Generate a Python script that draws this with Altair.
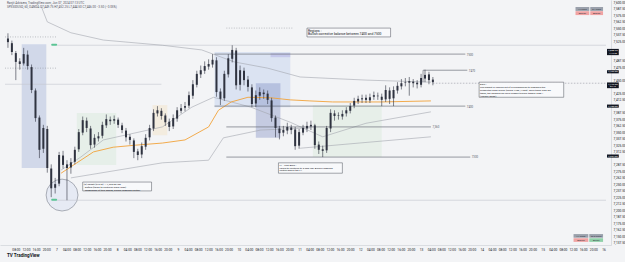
import json
import altair as alt
import pandas as pd

FONT = "Roboto"

# ---------------- candle data (index, OHLC) ----------------
opens = [7530,7521,7502,7486,7482,7499,7475,7430,7378,7318,
         7356,7280,7243,7251,7305,7288,7282,7293,7317,7349,
         7372,7357,7326,7338,7343,7363,7374,7372,7374,7363,
         7353,7341,7334,7313,7307,7322,7340,7357,7386,7391,
         7382,7370,7361,7376,7391,7397,7401,7420,7441,7461,
         7468,7476,7480,7488,7428,7415,7461,7491,7507,7441,
         7468,7451,7436,7405,7420,7426,7424,7411,7378,7357,
         7349,7353,7359,7355,7324,7349,7357,7361,7363,7326,
         7317,7315,7357,7386,7382,7380,7386,7391,7401,7409,
         7413,7416,7411,7418,7420,7418,7413,7430,7415,7430,
         7438,7445,7445,7447,7445,7441,7453,7461,7451]
closes = [7523,7504,7485,7481,7500,7477,7431,7377,7316,7358,
          7281,7242,7250,7306,7287,7281,7292,7316,7350,7373,
          7358,7325,7339,7342,7364,7375,7371,7375,7364,7354,
          7340,7335,7312,7306,7323,7339,7358,7387,7392,7381,
          7369,7360,7377,7392,7396,7400,7421,7442,7462,7469,
          7477,7481,7489,7427,7414,7462,7492,7508,7440,7469,
          7450,7437,7404,7421,7427,7423,7412,7377,7358,7348,
          7354,7360,7354,7323,7350,7358,7362,7364,7325,7316,
          7314,7358,7387,7381,7381,7385,7392,7400,7410,7414,
          7415,7412,7417,7421,7419,7412,7431,7414,7431,7439,
          7444,7446,7448,7444,7442,7454,7460,7450,7446]
highs = [7540,7526,7506,7492,7512,7507,7480,7434,7382,7364,
         7362,7288,7262,7312,7314,7296,7300,7322,7356,7380,
         7378,7362,7346,7350,7370,7384,7380,7382,7378,7368,
         7358,7346,7338,7318,7330,7346,7364,7394,7400,7396,
         7386,7376,7384,7398,7404,7408,7428,7450,7468,7478,
         7486,7490,7500,7494,7434,7468,7500,7517,7512,7478,
         7474,7458,7442,7430,7436,7432,7430,7416,7382,7362,
         7362,7368,7364,7360,7356,7364,7370,7372,7366,7332,
         7324,7362,7394,7392,7388,7392,7398,7406,7416,7420,
         7422,7422,7424,7428,7426,7424,7440,7436,7438,7446,
         7452,7454,7456,7452,7450,7462,7470,7466,7456]
lows = [7512,7498,7450,7470,7478,7470,7425,7370,7300,7310,
        7272,7225,7232,7246,7280,7219,7270,7288,7312,7344,
        7350,7318,7320,7332,7338,7358,7364,7366,7358,7348,
        7332,7326,7300,7296,7300,7316,7334,7352,7380,7374,
        7362,7352,7356,7370,7386,7390,7396,7414,7436,7454,
        7462,7470,7474,7418,7402,7410,7455,7484,7432,7430,
        7440,7428,7398,7398,7412,7414,7404,7370,7340,7336,
        7342,7346,7346,7316,7318,7344,7350,7354,7318,7308,
        7302,7310,7350,7372,7374,7374,7380,7386,7396,7404,
        7406,7406,7406,7412,7412,7400,7408,7404,7400,7424,
        7432,7438,7420,7436,7434,7436,7446,7442,7440]
bar_index = list(range(len(closes)))

# ---------------- zones (boxes) ----------------
zone_x1 = [3.5, 17.5, 36.75, 52.5, 63.0, 77.5, 66.75]
zone_x2 = [9.75, 27.5, 40.5, 71.75, 69.25, 95.0, 71.75]
zone_top = [7519, 7387, 7402, 7504, 7444, 7402, 7502]
zone_bot = [7281, 7287, 7344, 7398, 7339, 7302, 7494]
zone_fill = ["#7b8ec8", "#8fcf8f", "#f3c77c", "#9db6e8", "#7f8fc4", "#a6d8a6", "#b3b3e6"]
zone_alpha = [0.28, 0.13, 0.18, 0.28, 0.40, 0.16, 0.55]

# ---------------- moving averages / bands ----------------
orange_i = [13.5, 21.75, 26.75, 32.5, 39.25, 45, 51, 53.5, 56.75, 61, 66.75, 71.75, 76.75, 82.5, 95, 107.5]
orange_p = [7271, 7312, 7321, 7325, 7329, 7335, 7360, 7392, 7408, 7417, 7416, 7412, 7410, 7408, 7408, 7410]
band1_i = [8.5, 10, 16, 24.25, 39.25, 49.25, 57.5, 66, 74.25, 91, 107.5]
band1_p = [7591, 7562, 7541, 7527, 7517, 7508, 7485, 7473, 7456, 7450, 7446]
band2_i = [13.5, 18.5, 24.25, 39.25, 46.75, 52.25, 61.75, 71.75, 80, 91, 107.5]
band2_p = [7277, 7302, 7335, 7360, 7398, 7417, 7398, 7369, 7341, 7367, 7389]
band3_i = [16, 39.25, 51, 54.75, 64.25, 76.75]
band3_p = [7262, 7291, 7296, 7339, 7354, 7358]
band4_i = [74.25, 89.25, 107.5]
band4_p = [7319, 7329, 7341]

# ---------------- horizontal levels ----------------
level_p = [7500, 7469, 7400, 7360, 7302]
level_x1 = [52.5, 105.5, 52.5, 55.5, 55.5]
level_x2 = [116.25, 116.75, 116.25, 107.5, 117.5]
level_lbl = ["7500", "7470", "7400", "7,360", "7300"]
faint_p = [7517, 7219, 7442]
faint_x1 = [12.5, 12.5, -0.75]
faint_x2 = [152.0, 152.0, 39.0]
dotted_p = [7533, 7473, 7550]
dotted_x1 = [-0.75, -0.75, 55.5]
dotted_x2 = [12.5, 12.25, 72.5]
dashed_p = [7444]
dashed_x1 = [108.0]
dashed_x2 = [152.0]

# ---------------- note boxes ----------------
note_x1 = [76.0, 19.0, 68.75, 119.75]
note_x2 = [97.25, 36.5, 85.0, 141.25]
note_top = [7550, 7254, 7291, 7446]
note_bot = [7533, 7237, 7271, 7417]
note_size = [3.3, 2.5, 2.5, 2.45]
note_text = [
    "Regions :\nBullish corrective balance between 7400 and 7500",
    "(S) swept ($7240) \u2014 7,225.00 low\n- Defied (failed to continue lower lows)\n- Regardless of this sweep, buyers regained control",
    "L1 - Low Zone :\nFailed to continue to a new low. Buyers regained\ncontrol above the L1",
    "Daily :\nThe market is coming out of a compression to rebalance the\nsuspected lower prices (below 7400 / 7350). Once these lows are\ntaken, the rebalancing could support buyers toward 7550 +\n(Weekly range).",
]

# ---------------- price tags on the axis ----------------
tag_top = [7510, 7469, 7445.5, 7403, 7307]
tag_bot = [7498, 7463, 7434.5, 7397, 7301]
tag_text = ["7,508.25\n1:13:20", "7,466.00", "7,446.00\n04:13", "7,400.00", "7,304.00"]
green_tag_p = [7518, 7220]

# ---------------- small header / buttons ----------------
header_text = ["Ranjit Advisers, TradingView.com, Jun 07, 2024 07:13 UTC",
               "SPX500USD, 60, OANDA  O7,449.75 H7,452.25 L7,444.50 C7,446.00 \u22123.50 (\u22120.05%)"]
header_p = [7598, 7590.5]
btn_x1 = [144.25, 148.0, 144.25, 148.0, 143.75, 147.75, 143.75, 147.75]
btn_x2 = [147.75, 151.25, 147.75, 151.25, 147.5, 151.25, 147.5, 151.25]
btn_top = [7590.5, 7590.5, 7582.5, 7582.5, 7154, 7154, 7146, 7146]
btn_bot = [7583, 7583, 7575, 7575, 7147, 7147, 7139, 7139]
btn_fill = ["#9aa0ab", "#9aa0ab", "#f0a3a3", "#f0a3a3", "#9aa0ab", "#9aa0ab", "#f0a3a3", "#8fd0a8"]
btn_text = ["H4 Trend", "D1 Trend", "Bearish", "Bearish", "H1 Trend", "M15 Trend", "Bearish", "Bullish"]

# ---------------- axis ticks ----------------
y_ticks = [7137.5 + 12.5 * k for k in range(38)]
x_ticks = [round(2 + 2.575 * k, 3) for k in range(59)]
day_names = ["7", "8", "9", "10", "11", "12", "13", "14", "15", "16"]
hour_names = ["04:00", "08:00", "12:00", "16:00", "20:00"]
x_labels = ["08:00", "12:00", "16:00", "20:00"]
for d in day_names:
    x_labels += [d] + hour_names

# axis labels that sit under a price tag are hidden by it (as on the reference)
hidden_y = [v for v in y_ticks
            if any(b - 4 < v < t + 4 for t, b in zip(tag_top, tag_bot))]

# ======================================================================
xs = alt.Scale(domain=[-0.75, 152.0], nice=False, zero=False)
ys = alt.Scale(domain=[7133, 7604], nice=False, zero=False)

x_axis = alt.Axis(values=x_ticks,
                  labelExpr=json.dumps(x_labels) + "[round((datum.value - 2) / 2.575)]",
                  labelFontSize=3.2, labelFont=FONT, labelColor="#131722",
                  ticks=False, grid=False, domainColor="#c9ccd3", domainWidth=0.6,
                  labelPadding=2, labelOverlap=False, labelFlush=False, title=None)
y_axis = alt.Axis(orient="right", values=y_ticks,
                  labelExpr="indexof(" + json.dumps(hidden_y) + ", datum.value) >= 0 ? '' : format(datum.value, ',.2f')",
                  labelFontSize=3.2, labelFont=FONT, labelColor="#131722",
                  ticks=False, grid=False, domainColor="#c9ccd3", domainWidth=0.6,
                  labelPadding=2, labelOverlap=False, labelFlush=False, title=None)


def X(f):
    return alt.X(f, type="quantitative", scale=xs, axis=x_axis, title=None)


def Y(f):
    return alt.Y(f, type="quantitative", scale=ys, axis=y_axis, title=None)


candles = pd.DataFrame({"i": bar_index, "open": opens, "high": highs,
                        "low": lows, "close": closes})
zones = pd.DataFrame({"x1": zone_x1, "x2": zone_x2, "t": zone_top, "b": zone_bot,
                      "fill": zone_fill, "a": zone_alpha})

ma_rows = []
for name, ii, pp in [("b1", band1_i, band1_p), ("b2", band2_i, band2_p),
                     ("b3", band3_i, band3_p), ("b4", band4_i, band4_p)]:
    for k, (a, b) in enumerate(zip(ii, pp)):
        ma_rows.append({"line": name, "k": k, "i": a, "p": b})
bands = pd.DataFrame(ma_rows)
orange = pd.DataFrame({"i": orange_i, "p": orange_p, "k": list(range(len(orange_i)))})

levels = pd.DataFrame({"p": level_p, "x1": level_x1, "x2": level_x2, "lbl": level_lbl})
faint = pd.DataFrame({"p": faint_p, "x1": faint_x1, "x2": faint_x2})
dotted = pd.DataFrame({"p": dotted_p, "x1": dotted_x1, "x2": dotted_x2})
dashed = pd.DataFrame({"p": dashed_p, "x1": dashed_x1, "x2": dashed_x2})
notes = pd.DataFrame({"x1": note_x1, "x2": note_x2, "t": note_top, "b": note_bot,
                      "txt": note_text, "fs": note_size})
tags = pd.DataFrame({"t": tag_top, "b": tag_bot, "txt": tag_text,
                     "x1": [152.25] * 5, "x2": [155.25] * 5, "xm": [153.75] * 5})
gtags = pd.DataFrame({"t": [p + 2 for p in green_tag_p], "b": [p - 2 for p in green_tag_p],
                      "x1": [11.0, 11.0], "x2": [12.5, 12.5]})
header = pd.DataFrame({"p": header_p, "txt": header_text, "i": [-0.25, -0.25]})
buttons = pd.DataFrame({"x1": btn_x1, "x2": btn_x2, "t": btn_top, "b": btn_bot,
                        "fill": btn_fill, "txt": btn_text})
circle = pd.DataFrame({"i": [13.75], "p": [7229]})
logo = pd.DataFrame({"i": [-0.25], "p": [7112], "txt": ["TV TradingView"]})
vline = pd.DataFrame({"i": [105.5], "p1": [7469], "p2": [7446]})

layers = []

# zones
layers.append(alt.Chart(zones).mark_rect().encode(
    x=X("x1"), x2="x2", y=Y("t"), y2="b",
    color=alt.Color("fill:N", scale=None), opacity=alt.Opacity("a:Q", scale=None)))

# sweep circle
layers.append(alt.Chart(circle).mark_point(shape="circle", size=1018, fill="#c9d3ee",
                                           fillOpacity=0.3, stroke="#7a7f8c",
                                           strokeWidth=0.6).encode(x=X("i"), y=Y("p")))

# faint/dotted/dashed horizontal lines
layers.append(alt.Chart(faint).mark_rule(color="#c3c6ce", strokeWidth=0.6).encode(
    x=X("x1"), x2="x2", y=Y("p")))
layers.append(alt.Chart(dotted).mark_rule(color="#9598a1", strokeWidth=0.6,
                                          strokeDash=[1, 1.5]).encode(
    x=X("x1"), x2="x2", y=Y("p")))
layers.append(alt.Chart(dashed).mark_rule(color="#9598a1", strokeWidth=0.6,
                                          strokeDash=[1.5, 1.5]).encode(
    x=X("x1"), x2="x2", y=Y("p")))

# grey bands
layers.append(alt.Chart(bands).mark_line(color="#a3a6af", strokeWidth=0.6).encode(
    x=X("i"), y=Y("p"), detail="line:N", order="k:Q"))
# orange MA
layers.append(alt.Chart(orange).mark_line(color="#f2a33a", strokeWidth=0.9).encode(
    x=X("i"), y=Y("p"), order="k:Q"))

# level lines
layers.append(alt.Chart(levels).mark_rule(color="#6f727c", strokeWidth=0.7).encode(
    x=X("x1"), x2="x2", y=Y("p")))
layers.append(alt.Chart(vline).mark_rule(color="#6f727c", strokeWidth=0.7).encode(
    x=X("i"), y=Y("p1"), y2="p2"))
layers.append(alt.Chart(levels).mark_text(align="left", baseline="middle", dx=1.5,
                                          fontSize=2.8, font=FONT, color="#555a66").encode(
    x=X("x2"), y=Y("p"), text="lbl:N"))

# candles
layers.append(alt.Chart(candles).mark_rule(color="#2f3340", strokeWidth=0.6).encode(
    x=X("i"), y=Y("low"), y2="high"))
layers.append(alt.Chart(candles).mark_bar(size=2.0, color="#2f3340").encode(
    x=X("i"), y=Y("open"), y2="close"))

# note boxes
layers.append(alt.Chart(notes).mark_rect(fill="#f8f9fb", stroke="#4a4e59",
                                         strokeWidth=0.5).encode(
    x=X("x1"), x2="x2", y=Y("t"), y2="b"))
layers.append(alt.Chart(notes).mark_text(align="left", baseline="top", lineBreak="\n",
                                         dx=1, dy=0.8, font=FONT, color="#131722",
                                         lineHeight=2.9).encode(
    x=X("x1"), y=Y("t"), text="txt:N", size=alt.Size("fs:Q", scale=None)))

# green tags
layers.append(alt.Chart(gtags).mark_rect(fill="#5cc495", cornerRadius=0.8).encode(
    x=X("x1"), x2="x2", y=Y("t"), y2="b"))

# axis price tags
layers.append(alt.Chart(tags).mark_rect(fill="#131722").encode(
    x=X("x1"), x2="x2", y=Y("t"), y2="b"))
layers.append(alt.Chart(tags).mark_text(align="center", baseline="top", lineBreak="\n",
                                        fontSize=2.4, lineHeight=2.6, dy=0.4, font=FONT,
                                        color="#ffffff").encode(
    x=X("xm"), y=Y("t"), text="txt:N"))

# buttons
layers.append(alt.Chart(buttons).mark_rect().encode(
    x=X("x1"), x2="x2", y=Y("t"), y2="b", color=alt.Color("fill:N", scale=None)))
layers.append(alt.Chart(buttons).mark_text(align="center", baseline="middle", fontSize=2.2,
                                           font=FONT, color="#2a2e39").encode(
    x=X("xm"), y=Y("ym"), text="txt:N").transform_calculate(
    xm="(datum.x1 + datum.x2) / 2", ym="(datum.t + datum.b) / 2"))

# header and logo
layers.append(alt.Chart(header).mark_text(align="left", baseline="middle", fontSize=3.0,
                                          font=FONT, color="#50535e").encode(
    x=X("i"), y=Y("p"), text="txt:N"))
layers.append(alt.Chart(logo).mark_text(align="left", baseline="middle", fontSize=4.6,
                                        fontWeight="bold", font=FONT,
                                        color="#131722").encode(
    x=X("i"), y=Y("p"), text="txt:N"))

chart = alt.layer(*layers).properties(
    width=611, height=245,
    padding={"left": 0, "right": 14, "top": 0, "bottom": 17},
    autosize=alt.AutoSizeParams(type="none"),
    background="#f3f4f6",
).configure_view(stroke=None)

chart.save("out.html", embed_options={"renderer": "svg", "actions": False})
